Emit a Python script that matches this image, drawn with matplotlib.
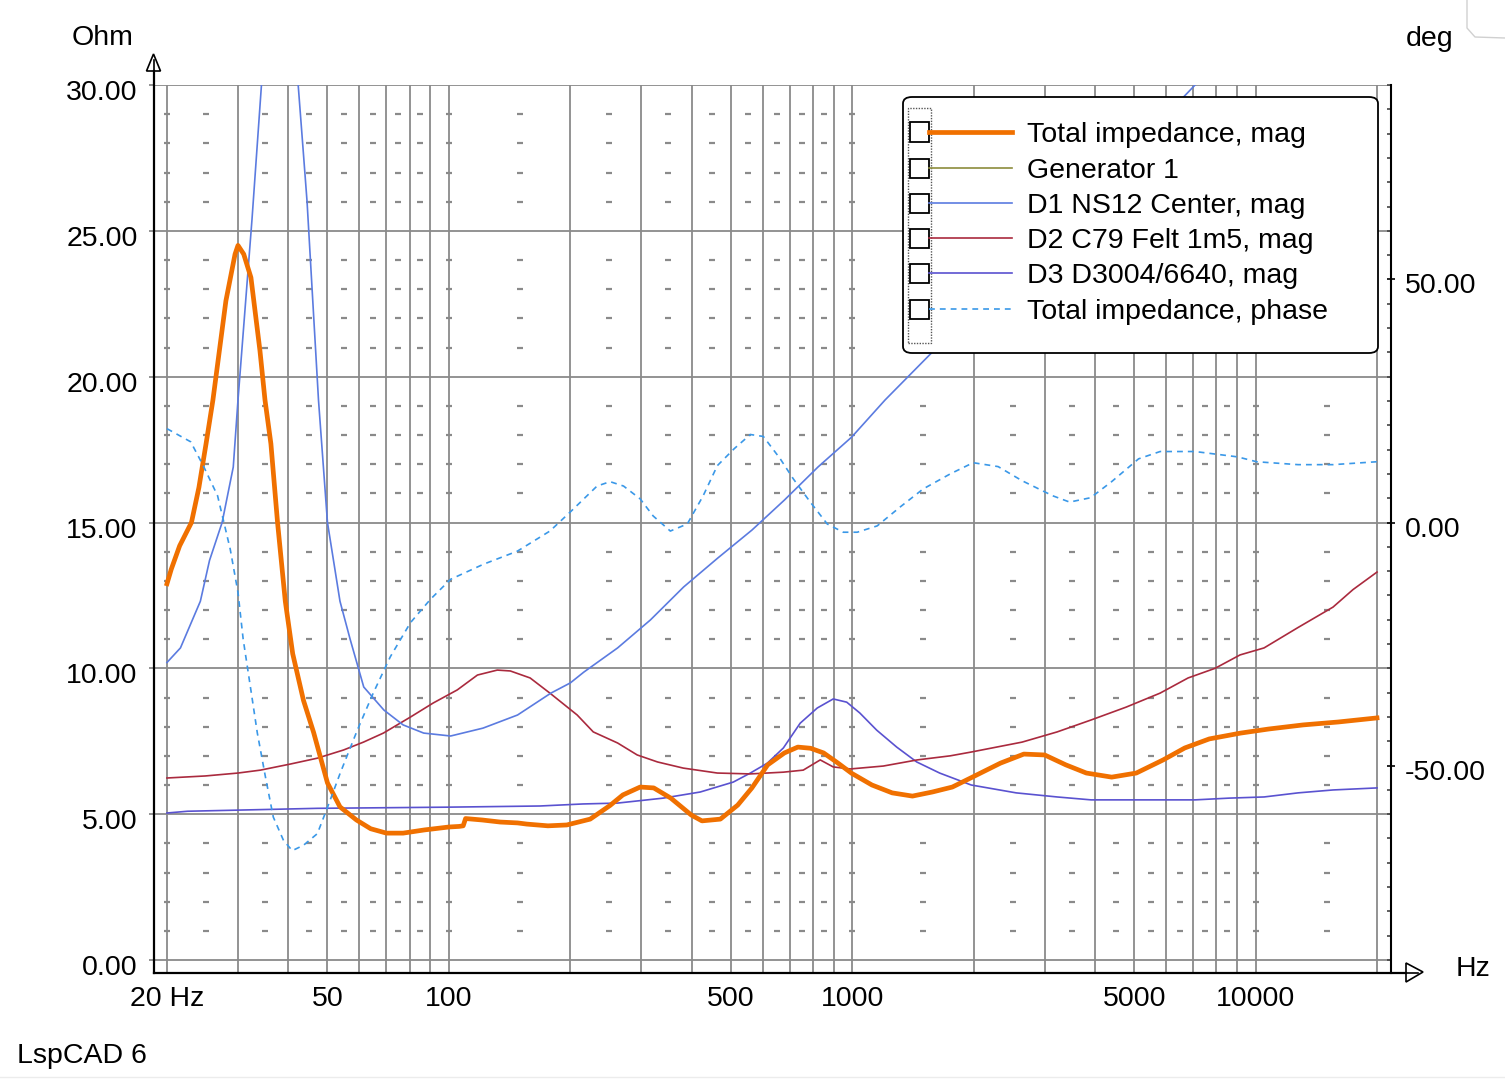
import matplotlib
matplotlib.use("Agg")
import matplotlib.pyplot as plt
import matplotlib.transforms as mtransforms
from matplotlib.lines import Line2D
from matplotlib.patches import Polygon, FancyBboxPatch, Rectangle
from matplotlib.ticker import FixedLocator, NullFormatter, FixedFormatter
import numpy as np

# ---------------- data ----------------
f_total = [20, 20.5, 21.5, 23, 24, 25, 26, 28, 29.5, 30, 31, 32.3, 34, 35, 36.2, 37.6, 39.3,
           41, 43.6, 46.2, 50, 53.7, 59, 64, 70, 77, 87, 100, 106, 108.5, 110, 121, 134, 148,
           156, 176, 196, 224, 251, 270, 298, 322, 355, 399, 424, 471, 520, 564, 617, 679, 733,
           788, 849, 922, 997, 1119, 1256, 1410, 1580, 1771, 1992, 2331, 2663, 3000, 3385,
           3806, 4398, 5062, 5900, 6675, 7678, 9184, 10783, 13117, 16022, 20000]
z_total = [12.9, 13.4, 14.2, 15.0, 16.2, 17.7, 19.2, 22.6, 24.2, 24.5, 24.2, 23.4, 20.9, 19.2,
           17.7, 15.0, 12.3, 10.5, 8.9, 7.8, 6.07, 5.25, 4.8, 4.5, 4.35, 4.35, 4.46, 4.56, 4.58,
           4.6, 4.85, 4.8, 4.73, 4.7, 4.66, 4.6, 4.63, 4.83, 5.3, 5.66, 5.93, 5.9, 5.55, 4.97,
           4.77, 4.83, 5.31, 5.9, 6.69, 7.1, 7.3, 7.26, 7.1, 6.75, 6.4, 6.0, 5.73, 5.62, 5.76,
           5.93, 6.28, 6.75, 7.06, 7.03, 6.69, 6.41, 6.27, 6.41, 6.86, 7.27, 7.58, 7.78, 7.92,
           8.06, 8.16, 8.3]

f_d1 = [20, 21.6, 24.2, 25.5, 27.4, 29.2, 30, 32.5, 34.3, 36, 38, 40, 42.3, 43.5, 44.5, 47.5,
        50, 53.7, 56.9, 61.5, 69, 77, 86.6, 101, 121.5, 148, 179, 200, 216, 262, 316, 382,
        464, 564, 679, 822, 997, 1206, 2327, 4116, 7078, 9700]
z_d1 = [10.2, 10.7, 12.3, 13.7, 15.0, 16.9, 19.2, 25.4, 30, 36, 39, 36, 30, 27.8, 26.0, 19.2,
        15.0, 12.3, 11.0, 9.36, 8.57, 8.06, 7.78, 7.68, 7.95, 8.4, 9.15, 9.5, 9.87, 10.7, 11.66,
        12.79, 13.78, 14.74, 15.77, 16.9, 17.93, 19.2, 23.2, 26.6, 30, 31.9]

f_d2 = [20, 24.9, 30, 34.1, 40.5, 47.2, 54.8, 61.4, 68.8, 80.3, 91.4, 104.9, 117.7, 131.8, 142,
        159, 178, 208, 228, 262, 293, 329, 381, 463, 559, 675, 756, 833, 897, 989, 1194, 1449,
        1750, 1972, 2636, 3221, 3911, 4776, 5798, 6802, 7934, 9152, 10496, 12744, 15561, 17440,
        20000]
z_d2 = [6.24, 6.31, 6.41, 6.51, 6.72, 6.92, 7.2, 7.47, 7.78, 8.33, 8.81, 9.26, 9.77, 9.94, 9.91,
        9.67, 9.15, 8.4, 7.82, 7.44, 7.03, 6.79, 6.58, 6.41, 6.38, 6.44, 6.51, 6.86, 6.62, 6.55,
        6.65, 6.86, 7.0, 7.13, 7.47, 7.82, 8.23, 8.67, 9.15, 9.67, 10.0, 10.46, 10.7, 11.4, 12.1,
        12.7, 13.3]

f_d3 = [20, 22.5, 47.2, 99, 168, 215, 262, 340, 420, 507, 559, 616, 675, 743, 819, 897, 969,
        1044, 1150, 1289, 1445, 1647, 1972, 2550, 3221, 3911, 7078, 8596, 10496, 12744, 15561,
        20000]
z_d3 = [5.04, 5.1, 5.2, 5.24, 5.28, 5.35, 5.38, 5.55, 5.76, 6.1, 6.41, 6.75, 7.27, 8.12, 8.64,
        8.95, 8.84, 8.47, 7.88, 7.3, 6.79, 6.41, 6.0, 5.73, 5.59, 5.49, 5.49, 5.55, 5.59, 5.73,
        5.83, 5.9]

f_phase = [20, 22.9, 24.6, 26.7, 28.7, 30, 30.9, 32.2, 33.5, 35.1, 36.7, 38.9, 40.9, 43.6, 47.2,
           50, 53.8, 59.3, 65, 71.6, 80.3, 90, 100.9, 121.7, 147.8, 178, 200, 233, 251, 271, 298,
           321, 354, 390, 427, 463, 510, 559, 602, 663, 714, 787, 867, 950, 1029, 1153, 1315,
           1499, 1750, 1994, 2300, 2636, 3140, 3459, 3900, 4396, 5128, 5798, 7078, 9022, 10060,
           12744, 15561, 20000]
p_phase = [19.3, 16.6, 11.7, 5.5, -5.5, -14.4, -24, -33.8, -43.3, -52.4, -60.6, -65.4, -67.5,
           -66.4, -64, -58.6, -51.5, -42.7, -35, -27.6, -20.6, -15.8, -11.7, -8.6, -5.9, -1.76,
           2.17, 7.5, 8.4, 7.5, 4.86, 1.34, -1.76, -0.3, 5.5, 11.7, 15.2, 18.1, 17.7, 13.1, 9,
           4.2, -0.3, -2, -2, -0.7, 3.2, 6.9, 10, 12.3, 11.5, 8.6, 5.5, 4.2, 5.1, 8.4, 13.1, 14.6,
           14.6, 13.5, 12.5, 11.9, 11.9, 12.5]

series_labels = ["Total impedance, mag", "Generator 1", "D1 NS12 Center, mag",
                 "D2 C79 Felt 1m5, mag", "D3 D3004/6640, mag", "Total impedance, phase"]

x_tick_vals = [20, 50, 100, 500, 1000, 5000, 10000]
x_tick_labels = ["20 Hz", "50", "100", "500", "1000", "5000", "10000"]
y_left_ticks = [0, 5, 10, 15, 20, 25, 30]
y_left_labels = ["0.00", "5.00", "10.00", "15.00", "20.00", "25.00", "30.00"]
y_right_ticks = [-50, 0, 50]
y_right_labels = ["-50.00", "0.00", "50.00"]

# ---------------- style ----------------
W, H, DPI = 1505, 1080, 100
FONT = ["Liberation Sans", "DejaVu Sans"]
plt.rcParams['font.family'] = FONT
FS = 20.5
GRID = '#8a8a8a'
C_TOTAL = '#f07000'
C_GEN = '#8c8c3c'
C_D1 = '#5b7be0'
C_D2 = '#aa2a3e'
C_D3 = '#5a52d0'
C_PH = '#3a98e8'

fig = plt.figure(figsize=(W / DPI, H / DPI), dpi=DPI)
fig.patch.set_facecolor('white')

def fx(x):
    return x / W

def fy(y):
    return 1 - y / H

ax_l, ax_r, ax_t, ax_b = 153.5, 1391, 85, 973
ax = fig.add_axes([fx(ax_l), fy(ax_b), fx(ax_r) - fx(ax_l), fy(ax_t) - fy(ax_b)])
ax.set_xscale('log')
ax.set_xlim(18.52, 21664)
ax.set_ylim(-0.4457, 30)

# grid
grid_freqs = []
for dec in [10, 100, 1000]:
    for m in range(1, 10):
        v = m * dec
        if v >= 20:
            grid_freqs.append(v)
grid_freqs += [10000, 20000]
minor_grid = [g for g in grid_freqs if g not in x_tick_vals]
ax.xaxis.set_major_locator(FixedLocator(x_tick_vals))
ax.xaxis.set_major_formatter(FixedFormatter(x_tick_labels))
ax.xaxis.set_minor_locator(FixedLocator(minor_grid))
ax.xaxis.set_minor_formatter(NullFormatter())
ax.yaxis.set_major_locator(FixedLocator(y_left_ticks))
ax.yaxis.set_major_formatter(FixedFormatter(y_left_labels))
ax.grid(True, which='both', axis='x', color=GRID, lw=1.3, zorder=0)
ax.grid(True, which='major', axis='y', color=GRID, lw=1.3, zorder=0)
ax.set_axisbelow(True)

# dashed minor grid marks (short dashes at mid positions)
dash_x = [20, 25, 35, 45, 55, 65, 75, 85, 100, 150, 250, 350, 450, 550, 650, 750, 850, 1000,
          1500, 2500, 3500, 4500, 5500, 6500, 7500, 8500, 10000, 15000]
dash_y = [v for v in range(1, 30) if v % 5 != 0]
DX, DY = np.meshgrid(dash_x, dash_y)
ax.plot(DX.ravel(), DY.ravel(), ls='none', marker='_', ms=5, mew=1.6, color=GRID, zorder=0.5)

ax.tick_params(axis='x', which='both', length=0, pad=9.5, labelsize=FS, colors='black')
ax.tick_params(axis='y', which='major', length=3.6, width=1.3, color=GRID, direction='out',
               pad=7.9, labelsize=FS, labelcolor='black')
for s in ['top', 'left', 'right', 'bottom']:
    ax.spines[s].set_visible(False)

# right (phase) axis
ax2 = ax.twinx()
ax2.set_ylim((-0.4457 - 15) * 6, (30 - 15) * 6)
ax2.yaxis.set_major_locator(FixedLocator(y_right_ticks))
ax2.yaxis.set_major_formatter(FixedFormatter(y_right_labels))
ax2.yaxis.set_minor_locator(FixedLocator([v for v in range(-90, 91, 5) if v not in y_right_ticks]))
ax2.tick_params(axis='y', which='major', direction='inout', length=5.8, width=1.2,
                color='black', pad=7.2, labelsize=FS)
ax2.tick_params(axis='y', which='minor', direction='in', length=2.9, width=1.2, color='#444444')
for s in ['top', 'left', 'bottom']:
    ax2.spines[s].set_visible(False)
ax2.spines['right'].set_linewidth(1.5)
ax2.spines['right'].set_color('black')

# label vertical offset (labels sit slightly below their grid lines)
off_l = mtransforms.ScaledTranslation(0, -5 / DPI, fig.dpi_scale_trans)
for lab in ax.get_yticklabels():
    lab.set_transform(lab.get_transform() + off_l)
off_r = mtransforms.ScaledTranslation(0, -4 / DPI, fig.dpi_scale_trans)
for lab in ax2.get_yticklabels():
    lab.set_transform(lab.get_transform() + off_r)

# curves
ax.plot(f_d3, z_d3, color=C_D3, lw=1.2, zorder=2)
ax.plot(f_d2, z_d2, color=C_D2, lw=1.2, zorder=2)
ax.plot(f_d1, z_d1, color=C_D1, lw=1.2, zorder=2)
ax.plot([], [], color=C_GEN, lw=1.2)
ax.plot(f_total, z_total, color=C_TOTAL, lw=3.4, zorder=3, solid_joinstyle='round')
ax2.plot(f_phase, p_phase, color=C_PH, lw=1.2, ls=(0, (3.5, 3.0)))

# ---------------- axis decorations (figure pixel coords) ----------------
def fline(xs, ys, **kw):
    fig.add_artist(Line2D([fx(v) for v in xs], [fy(v) for v in ys],
                          transform=fig.transFigure, **kw))

# left spine with arrow
fline([153.5, 153.5], [973, 71], color='black', lw=1.6)
fig.add_artist(Polygon([(fx(153.5), fy(54)), (fx(146.5), fy(71)), (fx(160.5), fy(71))],
                       closed=True, transform=fig.transFigure, facecolor='white',
                       edgecolor='black', lw=1.2))
fline([153.5, 153.5], [60, 71], color='black', lw=1.2)
# bottom spine with arrow
fline([153.5, 1406], [973, 973], color='black', lw=1.6)
fig.add_artist(Polygon([(fx(1423), fy(972)), (fx(1406), fy(963)), (fx(1406), fy(982))],
                       closed=True, transform=fig.transFigure, facecolor='white',
                       edgecolor='black', lw=1.2))
fline([1406, 1418], [973, 973], color='black', lw=1.2)

fig.text(fx(103), fy(38), "Ohm", fontsize=FS, ha='center', va='center')
fig.text(fx(1430), fy(39), "deg", fontsize=FS, ha='center', va='center')
fig.text(fx(1473), fy(969), "Hz", fontsize=FS, ha='center', va='center')
fig.text(fx(17), fy(1056), "LspCAD 6", fontsize=FS, ha='left', va='center')

# faint frame remnants
fline([1467, 1467, 1475, 1505], [0, 28, 37, 38], color='#d0d0d0', lw=1.0)
fline([0, 1505], [1077, 1077], color='#ececec', lw=1.0)

# ---------------- legend ----------------
fig.add_artist(FancyBboxPatch((fx(903), fy(353)), fx(1378) - fx(903), fy(97) - fy(353),
                              boxstyle="round,pad=0,rounding_size=0.006",
                              transform=fig.transFigure, facecolor='white',
                              edgecolor='black', lw=1.3, zorder=5))
fig.add_artist(Rectangle((fx(908), fy(343)), fx(931) - fx(908), fy(108) - fy(343),
                         transform=fig.transFigure, facecolor='white', edgecolor='#555555',
                         lw=1.0, ls=(0, (1, 1)), zorder=5))
row_y = [132, 168, 203, 238, 273, 309]
leg_colors = [C_TOTAL, C_GEN, C_D1, C_D2, C_D3, C_PH]
leg_lw = [3.4, 1.2, 1.2, 1.2, 1.2, 1.2]
leg_ls = ['-', '-', '-', '-', '-', (0, (3.5, 3.0))]
for ry, lab, col, lw, ls in zip(row_y, series_labels, leg_colors, leg_lw, leg_ls):
    fig.add_artist(Rectangle((fx(910), fy(ry + 9.5)), fx(19), fy(0) - fy(19),
                             transform=fig.transFigure, facecolor='white',
                             edgecolor='black', lw=1.3, zorder=6))
    fig.add_artist(Line2D([fx(929), fx(1012)], [fy(ry), fy(ry)], color=col, lw=lw, ls=ls,
                          transform=fig.transFigure, zorder=6))
    fig.text(fx(1027), fy(ry), lab, fontsize=FS, ha='left', va='center_baseline', zorder=6)

fig.savefig("out.png", dpi=DPI, facecolor='white')
